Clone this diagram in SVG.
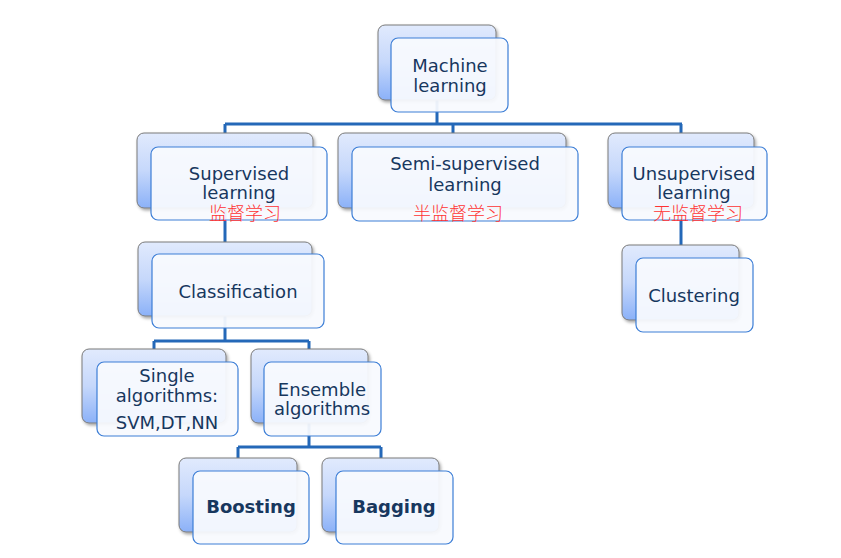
<svg xmlns="http://www.w3.org/2000/svg" width="841" height="558" viewBox="0 0 841 558">
<defs>
<linearGradient id="bg" x1="0" y1="0" x2="0" y2="1">
<stop offset="0" stop-color="#e1eafd"/>
<stop offset="0.5" stop-color="#c6d8fb"/>
<stop offset="1" stop-color="#8bb1f8"/>
</linearGradient>
<filter id="sh" x="-10%" y="-10%" width="130%" height="130%">
<feDropShadow dx="1.5" dy="2" stdDeviation="1.5" flood-color="#000" flood-opacity="0.35"/>
</filter>
<style>
.back{fill:url(#bg);stroke:#7a7a7a;stroke-width:1;filter:url(#sh)}
.front{fill:#f8fafe;fill-opacity:0.94;stroke:#3c7ed6;stroke-width:1.2}
.t{font-family:"DejaVu Sans",Verdana,sans-serif;font-size:18px;fill:#17375e;text-anchor:middle}
.b{font-weight:bold}
.cn{font-family:"Noto Sans CJK SC","DejaVu Sans",sans-serif;font-size:18px;fill:#ff3333;text-anchor:middle;font-weight:300}
.c{fill:none;stroke:#2468b8;stroke-width:3}
</style>
</defs>
<rect width="841" height="558" fill="#fff"/>
<g id="connectors">
<path class="c" d="M437 100V124M225 124H682M225 124V133M453 124V133M681 124V133"/>
<path class="c" d="M225 208V242"/>
<path class="c" d="M681 208V245"/>
<path class="c" d="M225 316V341M154 341H309M154 341V349M309 341V349"/>
<path class="c" d="M309 423V447M238 447H381M238 447V458M381 447V458"/>
</g>
<g id="machine-learning">
<rect class="back" x="378" y="25" width="118" height="75" rx="7"/>
<rect class="front" x="391" y="38" width="117" height="74" rx="7"/>
<text class="t" x="450" y="72">Machine</text>
<text class="t" x="450" y="92">learning</text>
</g>
<g id="supervised">
<rect class="back" x="137" y="133" width="176" height="75" rx="7"/>
<rect class="front" x="151" y="147" width="176" height="73" rx="7"/>
<text class="t" x="239" y="180">Supervised</text>
<text class="t" x="239" y="199">learning</text>
<text class="cn" x="245" y="220">监督学习</text>
</g>
<g id="semi-supervised">
<rect class="back" x="338" y="133" width="228" height="75" rx="7"/>
<rect class="front" x="352" y="147" width="226" height="74" rx="7"/>
<text class="t" x="465" y="170">Semi-supervised</text>
<text class="t" x="465" y="191">learning</text>
<text class="cn" x="458" y="220">半监督学习</text>
</g>
<g id="unsupervised">
<rect class="back" x="608" y="133" width="146" height="75" rx="7"/>
<rect class="front" x="622" y="147" width="145" height="73" rx="7"/>
<text class="t" x="694" y="180">Unsupervised</text>
<text class="t" x="694" y="199">learning</text>
<text class="cn" x="698" y="220">无监督学习</text>
</g>
<g id="clustering">
<rect class="back" x="622" y="245" width="117" height="75" rx="7"/>
<rect class="front" x="636" y="258" width="117" height="74" rx="7"/>
<text class="t" x="694" y="302">Clustering</text>
</g>
<g id="classification">
<rect class="back" x="138" y="242" width="174" height="74" rx="7"/>
<rect class="front" x="152" y="254" width="172" height="74" rx="7"/>
<text class="t" x="238" y="298">Classification</text>
</g>
<g id="single">
<rect class="back" x="82" y="349" width="144" height="74" rx="7"/>
<rect class="front" x="97" y="362" width="141" height="74" rx="7"/>
<text class="t" x="167" y="382">Single</text>
<text class="t" x="167" y="402">algorithms:</text>
<text class="t" x="167" y="429">SVM,DT,NN</text>
</g>
<g id="ensemble">
<rect class="back" x="251" y="349" width="117" height="74" rx="7"/>
<rect class="front" x="264" y="362" width="117" height="74" rx="7"/>
<text class="t" x="322" y="396">Ensemble</text>
<text class="t" x="322" y="415">algorithms</text>
</g>
<g id="boosting">
<rect class="back" x="179" y="458" width="118" height="74" rx="7"/>
<rect class="front" x="193" y="471" width="116" height="73" rx="7"/>
<text class="t b" x="251" y="513">Boosting</text>
</g>
<g id="bagging">
<rect class="back" x="322" y="458" width="117" height="74" rx="7"/>
<rect class="front" x="336" y="471" width="117" height="73" rx="7"/>
<text class="t b" x="394" y="513">Bagging</text>
</g>
</svg>
